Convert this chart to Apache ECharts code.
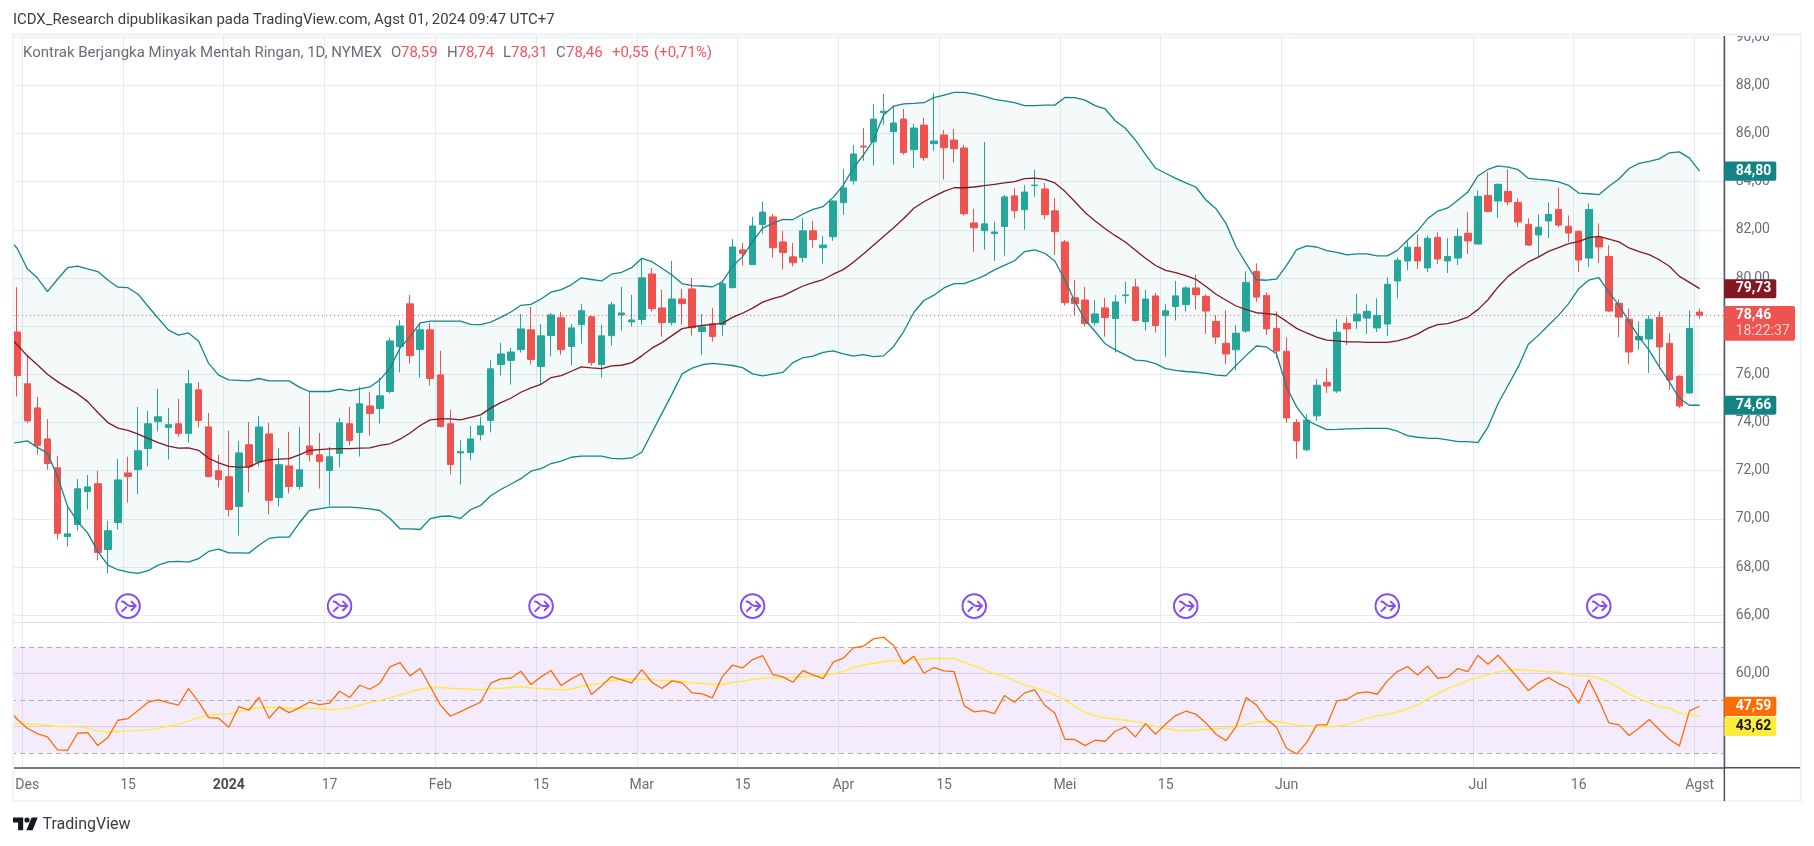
<!DOCTYPE html>
<html><head><meta charset="utf-8">
<style>html,body{margin:0;padding:0;background:#fff}#c{width:1814px;height:846px}</style>
<script src="https://cdn.jsdelivr.net/npm/echarts@6/dist/echarts.min.js"></script>
</head><body><div id="c"></div>
<script>
const monthDays = [
 ['2023-11',[29,30]],
 ['2023-12',[1,4,5,6,7,8,11,12,13,14,15,18,19,20,21,22,26,27,28,29]],
 ['2024-01',[2,3,4,5,8,9,10,11,12,16,17,18,19,22,23,24,25,26,29,30,31]],
 ['2024-02',[1,2,5,6,7,8,9,12,13,14,15,16,20,21,22,23,26,27,28,29]],
 ['2024-03',[1,4,5,6,7,8,11,12,13,14,15,18,19,20,21,22,25,26,27,28]],
 ['2024-04',[1,2,3,4,5,8,9,10,11,12,15,16,17,18,19,22,23,24,25,26,29,30]],
 ['2024-05',[1,2,3,6,7,8,9,10,13,14,15,16,17,20,21,22,23,24,28,29,30,31]],
 ['2024-06',[3,4,5,6,7,10,11,12,13,14,17,18,20,21,24,25,26,27,28]],
 ['2024-07',[1,2,3,5,8,9,10,11,12,15,16,17,18,19,22,23,24,25,26,29,30,31]],
 ['2024-08',[1,2,5]]
];
const categories = monthDays.flatMap(([m,ds]) => ds.map(d => m+'-'+String(d).padStart(2,'0')));
const tickDates = ['2023-12-01','2023-12-15','2024-01-02','2024-01-17','2024-02-01','2024-02-15','2024-03-01','2024-03-15','2024-04-01','2024-04-15','2024-05-01','2024-05-15','2024-06-03','2024-07-01','2024-07-16','2024-08-01'];
const tickLabels = ['Des','15','2024','17','Feb','15','Mar','15','Apr','15','Mei','15','Jun','Jul','16','Agst'];
const priceTicks = [66,68,70,72,74,76,78,80,82,84,86,88,90];
const rsiTicks = [40,60];
const rsiLevels = [30,50,70];
const markerDates = ['2023-12-15','2024-01-18','2024-02-15','2024-03-18','2024-04-18','2024-05-17','2024-06-17','2024-07-18'];
const markerLevel = 66.38;
const lastPrice = 78.46;

// [open, close, low, high]; the first day sits off the left edge of the pane
const candles = [
['-','-','-','-'],
[77.76,75.95,75.08,79.62],[75.61,74.07,73.98,76.81],[74.61,73.05,72.67,75.07],[73.32,72.30,72.04,74.14],[72.12,69.40,69.15,72.62],
[69.27,69.38,68.86,70.48],[69.77,71.25,69.52,71.65],[71.14,71.33,70.39,71.82],[71.46,68.61,68.28,72.00],[68.73,69.51,67.74,69.92],
[69.85,71.62,69.56,72.50],[71.91,71.76,70.68,72.58],[72.05,72.83,71.02,74.65],[72.92,73.95,72.18,74.49],[74.04,74.24,73.63,75.40],
[73.80,73.91,72.47,74.61],[73.95,73.55,73.42,74.98],[73.55,75.61,73.17,76.19],[75.36,74.09,73.80,75.69],[73.82,71.76,71.73,74.40],
[72.00,71.64,71.31,72.66],[71.75,70.39,70.10,73.66],[70.52,72.74,69.31,73.24],[73.08,72.18,71.10,74.03],[72.37,73.82,72.18,74.28],
[73.53,70.77,70.19,73.99],[70.89,72.25,70.52,72.95],[72.20,71.35,71.06,73.62],[71.35,72.04,71.22,73.82],[73.03,72.67,72.38,75.28],
[72.66,72.38,71.26,73.57],[72.01,72.58,70.56,72.99],[72.72,73.99,72.14,74.20],[73.95,73.26,73.05,74.65],[73.59,74.78,72.59,75.48],
[74.69,74.38,73.46,75.28],[74.58,75.11,73.96,75.86],[75.29,77.39,75.21,77.52],[77.16,78.01,76.08,78.26],[78.93,76.78,76.45,79.30],
[77.03,77.85,75.87,78.12],[77.85,75.83,75.54,78.14],[75.98,73.84,73.80,76.98],[73.95,72.26,71.85,74.53],[72.74,72.79,71.43,73.28],
[72.76,73.32,72.43,73.86],[73.50,73.86,73.26,74.24],[74.09,76.23,73.59,76.60],[76.41,76.85,75.95,77.31],[76.58,76.93,75.58,77.10],
[77.03,77.89,76.91,78.51],[77.85,76.62,76.41,78.80],[76.33,77.60,75.57,78.10],[77.61,78.47,76.74,78.55],[78.35,77.03,76.82,78.59],
[77.16,77.93,76.37,78.10],[78.07,78.64,77.28,78.93],[78.39,76.49,76.37,78.43],[76.41,77.60,75.87,78.06],[77.61,78.89,77.20,79.01],
[78.47,78.55,77.82,79.63],[78.18,78.26,77.99,79.30],[78.28,80.01,78.07,80.84],[80.17,78.73,78.61,80.42],[78.76,78.15,77.57,79.51],
[78.15,79.13,78.03,80.71],[79.13,78.94,78.06,79.55],[79.55,77.94,77.61,80.01],[77.78,77.97,76.82,78.51],[78.10,77.57,77.36,78.76],
[78.07,79.76,77.61,79.92],[79.60,81.29,79.58,81.62],[81.17,81.02,80.52,81.46],[80.56,82.16,80.56,82.54],[82.22,82.74,81.85,83.16],
[82.54,81.26,80.85,82.66],[81.50,81.06,80.35,81.96],[80.88,80.64,80.48,81.46],[80.85,81.96,80.64,82.50],[81.96,81.60,81.26,82.37],
[81.26,81.37,80.60,81.75],[81.72,83.20,81.55,83.23],[83.13,83.74,82.63,84.53],[84.04,85.15,83.88,85.52],[85.48,85.44,84.87,86.23],
[85.66,86.60,84.67,87.23],[86.87,86.93,86.37,87.64],[86.08,86.44,84.71,87.14],[86.60,85.21,85.12,87.02],[85.33,86.23,84.58,86.40],
[86.35,85.00,84.87,86.64],[85.58,85.69,85.29,87.68],[85.94,85.41,84.09,86.15],[85.73,85.37,84.79,86.19],[85.40,82.67,82.59,85.52],
[82.29,82.09,81.10,82.87],[81.97,82.25,81.18,85.65],[81.85,81.91,80.72,82.33],[82.14,83.37,80.93,83.45],[83.41,82.80,82.47,83.74],
[82.84,83.57,82.01,83.86],[83.84,83.86,83.38,84.49],[83.70,82.63,82.43,83.95],[82.79,81.93,80.97,83.32],[81.50,78.98,78.86,81.58],
[79.18,78.94,78.44,79.92],[79.09,78.11,77.99,79.63],[78.15,78.51,78.03,79.09],[78.76,78.36,77.57,79.18],[78.32,79.01,76.91,79.30],
[79.27,79.30,78.94,79.84],[79.63,78.24,78.19,79.96],[78.19,79.13,77.82,79.51],[79.26,78.03,77.74,79.38],[78.44,78.64,76.74,78.93],
[78.82,79.26,78.24,79.88],[78.90,79.59,78.61,79.67],[79.59,79.31,78.69,80.13],[79.24,78.63,77.68,79.33],[78.20,77.55,77.26,78.45],
[77.29,76.85,76.43,78.66],[77.02,77.71,76.17,78.04],[77.80,79.82,77.72,80.28],[80.28,79.21,79.01,80.61],[79.28,77.89,77.64,79.41],
[77.91,76.97,76.68,78.62],[76.96,74.19,73.99,77.54],[74.01,73.24,72.49,74.14],[72.87,74.10,72.82,74.35],[74.28,75.55,74.07,75.80],
[75.67,75.52,75.23,76.25],[75.31,77.75,75.23,78.29],[78.12,77.89,77.22,78.37],[78.22,78.50,77.89,79.33],[78.34,78.62,77.68,78.91],
[77.93,78.45,77.76,79.16],[78.09,79.74,77.60,80.03],[79.88,80.74,79.17,80.86],[80.71,81.28,80.32,81.52],[81.28,80.71,80.38,81.81],
[80.42,81.65,80.25,81.77],[81.69,80.79,80.58,81.90],[80.71,80.90,80.21,81.65],[80.83,81.73,80.54,82.06],[81.86,81.54,81.00,82.73],
[81.41,83.39,81.41,83.64],[83.43,82.77,82.74,84.39],[83.20,83.89,82.49,83.93],[83.60,83.16,83.03,84.51],[83.14,82.33,82.12,83.31],
[82.23,81.37,81.33,82.48],[81.79,82.11,80.87,82.64],[82.37,82.64,81.66,83.14],[82.85,82.20,82.12,83.76],[82.15,81.87,81.50,82.60],
[81.94,80.75,80.25,81.97],[80.83,82.85,80.46,83.10],[81.69,81.29,80.63,82.27],[80.90,78.63,78.59,81.36],[78.95,78.38,77.55,79.12],
[78.29,76.93,76.43,78.74],[77.43,77.58,77.02,78.20],[77.47,78.29,76.06,78.45],[78.37,77.14,76.23,78.62],[77.29,75.77,75.36,77.71],
[75.92,74.69,74.61,75.96],[75.23,77.91,75.19,78.66],[78.59,78.46,78.31,78.74]
];
const bbUpper = [81.66,
81.24,80.39,80.01,79.44,79.95,80.43,80.50,80.38,80.27,79.92,79.62,79.60,79.33,78.82,78.33,77.85,77.63,77.72,77.39,76.46,
75.97,75.77,75.75,75.73,75.83,75.73,75.73,75.73,75.47,75.29,75.29,75.29,75.39,75.32,75.40,75.48,75.77,76.26,77.09,77.57,
78.14,78.21,78.21,78.21,78.21,78.08,78.07,78.17,78.37,78.59,78.87,78.91,79.13,79.42,79.52,79.72,80.01,79.94,79.88,80.16,
80.24,80.43,80.82,80.68,80.41,80.13,79.77,79.69,79.67,79.63,79.85,80.48,80.89,81.51,82.07,82.27,82.44,82.43,82.66,82.85,
82.97,83.35,83.86,84.56,85.11,85.73,86.77,87.14,87.23,87.25,87.28,87.49,87.60,87.71,87.71,87.64,87.54,87.42,87.36,87.28,
87.16,87.16,87.18,87.18,87.50,87.49,87.39,87.16,87.02,86.53,86.22,85.73,85.14,84.56,84.35,84.14,83.95,83.78,83.24,82.88,
82.26,81.29,80.60,79.93,79.91,79.96,80.53,81.18,81.34,81.29,81.14,81.07,80.96,81.00,81.00,80.92,80.92,81.15,81.57,81.95,
82.46,82.78,82.91,83.23,83.57,84.24,84.51,84.66,84.61,84.50,84.14,84.10,84.07,83.99,83.85,83.53,83.50,83.46,83.81,84.11,
84.55,84.76,84.84,84.95,85.20,85.24,84.98,84.44];
const bbMiddle = [77.62,
77.23,76.77,76.40,76.01,75.70,75.44,75.19,74.87,74.42,74.00,73.77,73.68,73.52,73.34,73.17,73.02,72.94,72.95,72.85,72.52,
72.33,72.18,72.15,72.15,72.36,72.45,72.48,72.50,72.66,72.84,72.88,72.91,72.92,72.92,72.94,72.95,73.05,73.12,73.31,73.57,
73.88,74.11,74.15,74.15,74.11,74.22,74.32,74.60,74.83,75.01,75.26,75.44,75.59,75.87,75.95,76.13,76.31,76.27,76.24,76.35,
76.38,76.49,76.77,77.09,77.32,77.61,77.90,77.97,78.03,78.08,78.12,78.37,78.54,78.75,79.00,79.15,79.26,79.47,79.67,79.81,
79.94,80.16,80.35,80.66,81.00,81.36,81.73,82.09,82.47,82.90,83.17,83.39,83.60,83.75,83.75,83.78,83.84,83.89,83.95,84.00,
84.13,84.15,84.10,83.95,83.60,83.17,82.72,82.37,82.05,81.76,81.50,81.15,80.82,80.52,80.32,80.23,80.10,79.95,79.65,79.33,
79.08,78.84,78.69,78.56,78.52,78.48,78.20,77.91,77.72,77.55,77.42,77.39,77.35,77.35,77.33,77.33,77.33,77.39,77.51,77.67,
77.91,78.07,78.11,78.23,78.38,78.69,79.10,79.63,80.07,80.39,80.67,80.87,81.11,81.26,81.43,81.51,81.68,81.73,81.62,81.50,
81.25,81.10,80.97,80.76,80.49,80.07,79.82,79.56];
const bbLower = [73.15,
73.17,73.24,72.97,72.73,71.76,70.52,69.89,69.41,68.65,68.08,67.89,67.79,67.74,67.85,68.08,68.22,68.24,68.21,68.35,68.65,
68.75,68.59,68.59,68.58,68.91,69.19,69.24,69.24,69.83,70.35,70.42,70.49,70.49,70.49,70.46,70.42,70.35,70.02,69.59,69.59,
69.56,70.01,70.10,70.12,70.02,70.38,70.56,70.96,71.22,71.44,71.67,71.98,72.09,72.30,72.40,72.56,72.61,72.61,72.61,72.51,
72.49,72.53,72.77,73.58,74.38,75.18,76.02,76.26,76.40,76.46,76.42,76.37,76.28,76.02,75.94,76.01,76.08,76.49,76.69,76.76,
76.91,76.98,76.85,76.76,76.82,76.74,76.77,77.16,77.78,78.57,79.07,79.29,79.59,79.77,79.77,79.92,80.10,80.34,80.53,80.72,
81.10,81.17,81.03,80.71,79.92,79.02,78.26,77.78,77.27,77.02,76.81,76.59,76.56,76.45,76.24,76.17,76.12,76.09,76.04,75.97,
75.94,76.38,76.79,77.18,77.14,76.86,75.48,74.65,74.10,73.89,73.71,73.72,73.74,73.75,73.76,73.76,73.76,73.64,73.46,73.39,
73.35,73.34,73.28,73.21,73.21,73.17,73.82,74.79,75.55,76.31,77.25,77.62,78.04,78.45,78.94,79.56,79.91,80.02,79.42,78.87,
78.18,77.55,77.00,76.31,75.69,75.00,74.72,74.72];
const rsi = [47.2,
42.83,39.43,37.42,36.16,31.26,31.13,37.55,37.80,32.89,35.91,42.45,43.08,46.10,49.25,50.13,49.12,48.11,54.40,49.50,43.46,
43.21,39.81,47.61,46.23,51.13,43.21,47.48,45.35,47.11,49.25,48.36,48.87,53.40,51.01,55.66,54.15,56.42,62.58,64.21,59.18,
61.95,55.16,48.24,43.96,45.72,47.48,49.25,56.42,58.05,58.30,60.94,55.91,58.81,61.19,55.53,58.05,60.06,52.14,55.41,58.93,
57.67,56.54,61.57,56.79,54.40,57.30,56.54,52.77,52.39,50.88,58.93,63.21,62.20,65.35,66.86,59.69,58.81,56.79,61.19,59.56,
58.18,64.34,65.85,69.75,70.38,73.14,73.77,70.63,63.71,66.60,60.19,62.33,61.07,60.82,47.86,45.60,46.10,44.97,51.76,49.25,
52.77,53.90,48.11,45.22,35.28,35.16,32.89,34.91,34.53,38.30,39.94,36.16,41.19,37.17,41.07,44.21,45.85,44.72,41.45,37.17,
34.78,40.06,51.01,48.24,42.96,39.81,31.89,29.75,34.03,40.69,40.69,49.75,50.38,52.64,53.14,52.26,57.30,60.82,62.70,59.56,
62.83,58.30,58.68,61.95,60.82,66.98,63.58,66.98,62.70,58.30,53.65,56.54,58.55,56.29,54.53,48.87,57.67,50.13,41.45,40.69,
36.67,39.56,42.70,38.93,35.28,32.77,45.97,47.74];
const rsiMA = [41.07,
41.07,41.07,40.82,40.57,40.06,40.06,39.94,39.43,38.43,37.92,38.18,38.43,38.55,38.81,39.43,40.19,40.82,42.20,43.46,44.34,
44.72,44.84,45.60,46.60,47.23,47.36,47.23,46.98,46.98,46.86,46.86,46.48,46.73,47.11,48.11,49.12,49.87,51.01,52.01,53.14,
54.15,54.78,54.91,54.53,54.40,54.15,53.90,54.40,54.53,54.78,55.16,54.65,54.40,54.28,53.90,54.15,55.28,55.91,56.54,57.42,
57.92,57.92,57.92,57.67,57.42,57.42,57.17,56.54,56.29,55.91,55.91,56.67,57.17,57.80,58.30,58.43,58.43,58.55,58.93,59.06,
59.31,59.94,60.82,62.45,63.21,63.84,64.59,64.84,64.84,65.22,65.47,65.72,65.72,65.72,64.34,62.96,61.45,60.06,59.06,57.30,
55.79,54.78,53.65,52.01,50.13,47.61,45.47,44.21,43.33,42.83,42.45,41.95,41.19,40.06,39.43,38.68,38.55,38.68,39.06,39.31,
39.43,39.94,40.94,41.70,41.95,42.08,41.32,40.69,40.31,40.06,39.94,40.19,40.82,41.95,43.33,44.21,44.59,45.47,46.86,48.24,
50.38,52.52,54.40,55.91,57.42,58.55,59.56,60.69,61.32,61.57,61.32,61.07,60.69,60.57,59.94,59.18,59.18,58.30,56.92,54.65,
52.39,50.50,49.12,47.61,46.98,45.22,44.47,43.84];

const FONT = 'Roboto, "Liberation Sans", sans-serif';
const GRID = '#e4ecf2', TXT = '#6a6d78', UP = '#26a69a', DOWN = '#ef5350', BB = '#13868a', FRAME='#f0f3fa', AXIS='#50535e';
const tickIdx = tickDates.map(d => categories.indexOf(d));
const isTick = i => tickIdx.includes(i);
const fmt = v => v.toFixed(2).replace('.', ',');
const markers = markerDates.map(d => [d, markerLevel]);
const markerSvg = encodeURIComponent('<svg xmlns="http://www.w3.org/2000/svg" width="26" height="26" viewBox="0 0 26 26"><circle cx="13" cy="13" r="11.8" fill="#fff" stroke="#651fff" stroke-width="2"/><path d="M7 8.5C10.5 8.5 11.5 12.8 15 12.8H20.5M16.5 8.5L20.8 12.8L16.5 17.1M7.2 18L11.2 14.2" fill="none" stroke="#651fff" stroke-width="2" stroke-linecap="round" stroke-linejoin="round"/></svg>');

const chart = echarts.init(document.getElementById('c'), null, {renderer:'canvas', width:1814, height:846});
const lineBase = {type:'line', symbol:'none', showSymbol:false, smooth:false, animation:false, silent:true};
const GL = 2.086, GW = 1722.67;
chart.setOption({
  animation:false, backgroundColor:'#fff',
  grid:[
    {left:GL, width:GW, top:36, height:586, show:false},
    {left:GL, width:GW, top:622.3, height:145, show:false}
  ],
  xAxis:[
    {type:'category', gridIndex:0, data:categories, boundaryGap:true,
     axisLine:{show:true,lineStyle:{color:'#e0e3eb',width:1}}, axisTick:{show:false}, axisLabel:{show:false},
     splitLine:{show:true, interval:i=>isTick(i), lineStyle:{color:GRID,width:1}}},
    {type:'category', gridIndex:1, data:categories, boundaryGap:true,
     axisLine:{show:true,lineStyle:{color:AXIS,width:1.5}}, axisTick:{show:false},
     axisLabel:{show:true, interval:i=>isTick(i), hideOverlap:false,
       margin:11.5, color:TXT, fontFamily:FONT, fontSize:14,
       formatter:(v)=>{const k=tickDates.indexOf(v); const t=k<0?'':tickLabels[k]; return t==='2024'?'{b|2024}':t;},
       rich:{b:{fontWeight:'bold',color:'#4a4c55',fontFamily:FONT,fontSize:14}}},
     splitLine:{show:true, interval:i=>isTick(i), lineStyle:{color:GRID,width:1}}}
  ],
  yAxis:[
    {type:'value', gridIndex:0, position:'right', min:65.72, max:90.05, scale:true,
     axisLine:{show:false}, axisTick:{show:false, customValues:priceTicks},
     axisLabel:{show:true, customValues:priceTicks, margin:11, color:TXT, fontFamily:FONT, fontSize:14, formatter:fmt},
     splitLine:{show:true,lineStyle:{color:GRID,width:1}}},
    {type:'value', gridIndex:1, position:'right', min:24.7, max:79.4, scale:true,
     axisLine:{show:false}, axisTick:{show:false, customValues:rsiTicks},
     axisLabel:{show:true, customValues:rsiTicks, margin:11, color:TXT, fontFamily:FONT, fontSize:14, formatter:fmt},
     splitLine:{show:true,lineStyle:{color:'#e0d8f2',width:1}}}
  ],
  series:[
    {...lineBase, name:'BB base', data:bbLower, stack:'bb', lineStyle:{width:0,opacity:0}, z:1},
    {...lineBase, name:'BB fill', data:bbUpper.map((u,i)=>+(u-bbLower[i]).toFixed(2)), stack:'bb', lineStyle:{width:0,opacity:0},
      areaStyle:{color:'rgba(33,140,140,0.05)',opacity:1}, z:1},
    {type:'candlestick', name:'CL1!', data:candles, barWidth:7, animation:false, silent:true, z:3,
      itemStyle:{color:UP,color0:DOWN,borderColor:UP,borderColor0:DOWN,borderWidth:1},
      markLine:{silent:true,symbol:'none',animation:false,z:2,label:{show:false},
        lineStyle:{color:DOWN,type:[1,3],width:1},data:[{yAxis:lastPrice}]}},
    {...lineBase, name:'BB upper', data:bbUpper, lineStyle:{color:BB,width:1.3}, z:4},
    {...lineBase, name:'BB basis', data:bbMiddle, lineStyle:{color:'#801922',width:1.3}, z:4},
    {...lineBase, name:'BB lower', data:bbLower, lineStyle:{color:BB,width:1.3}, z:4},
    {type:'scatter', name:'markers', data:markers, symbol:'image://data:image/svg+xml,'+markerSvg, symbolSize:26, animation:false, silent:true, z:5, clip:false},
    {...lineBase, name:'RSI MA', xAxisIndex:1, yAxisIndex:1, data:rsiMA, lineStyle:{color:'#ffeb3b',width:1.4}, z:3},
    {...lineBase, name:'RSI', xAxisIndex:1, yAxisIndex:1, data:rsi, lineStyle:{color:'#ff6d00',width:1.3}, z:4,
      markArea:{silent:true,animation:false,z:0,itemStyle:{color:'rgba(150,70,240,0.1)'},data:[[{yAxis:rsiLevels[0]},{yAxis:rsiLevels[2]}]]},
      markLine:{silent:true,symbol:'none',animation:false,z:1,label:{show:false},
        lineStyle:{color:'#b3adb8',type:[5,4],width:1},data:rsiLevels.map(v=>({yAxis:v}))}}
  ]
});

const last = a => a[a.length-1];
const py = v => chart.convertToPixel({yAxisIndex:0},v);
const ry = v => chart.convertToPixel({yAxisIndex:1},v);
const tags = [
  {t:'84,80',y:py(last(bbUpper))-9.7,h:19.3,w:52,bg:'#138484',fg:'#fff'},
  {t:'79,73',y:py(last(bbMiddle))-9.5,h:19,w:52,bg:'#801922',fg:'#fff'},
  {t:'74,66',y:py(last(bbLower))-9.5,h:19,w:52,bg:'#138484',fg:'#fff'},
  {t:'47,59',y:ry(last(rsi))-9.6,h:19.3,w:52,bg:'#ff6d00',fg:'#fff'},
  {t:'43,62',y:ry(last(rsiMA))+0.4,h:19,w:52,bg:'#ffeb3b',fg:'#131722'}
];
const legend = [
  {t:'Kontrak Berjangka Minyak Mentah Ringan, 1D, NYMEX',x:23,c:TXT},
  {t:'O',x:391,c:TXT},{t:'78,59',x:401,c:'#f7525f'},
  {t:'H',x:447,c:TXT},{t:'78,74',x:457.5,c:'#f7525f'},
  {t:'L',x:503,c:TXT},{t:'78,31',x:511,c:'#f7525f'},
  {t:'C',x:556,c:TXT},{t:'78,46',x:566,c:'#f7525f'},
  {t:'+0,55',x:612,c:'#f7525f'},{t:'(+0,71%)',x:654,c:'#f7525f'}
];
const rect=(x,y,w,h,fill,z=20,r)=>({type:'rect',silent:true,z,shape:{x,y,width:w,height:h,r:r||0},style:{fill}});
const text=(t,x,y,font,fill,z=30,extra={})=>({type:'text',silent:true,z,x,y,style:{text:t,font,fill,textVerticalAlign:'middle',...extra}});
const poly=(points,fill)=>({type:'polygon',silent:true,z:30,shape:{points},style:{fill}});
const g=[
  rect(0,36,12,733,'#fff',18),
  rect(1726,20,74,13,'#fff',18),
  rect(12,33,1789.5,3,FRAME),rect(12,33,2,768,FRAME),rect(1800,33,2,769,FRAME),rect(12,800,1790,2,FRAME),
  rect(1724,767,76,1.5,AXIS),rect(1723.6,36,1.5,765,AXIS),
  text('ICDX_Research dipublikasikan pada TradingView.com, Agst 01, 2024 09:47 UTC+7',13,20,'14.9px '+FONT,'#3a3d46'),
  ...legend.map(l=>text(l.t,l.x,53.5,'15px '+FONT,l.c)),
  text('TradingView',42.5,825,'16px '+FONT,'#3a3d46'),
  poly([[13,817.4],[23.2,817.4],[23.2,830.2],[18.1,830.2],[18.1,822.4],[13,822.4]],'#131722'),
  poly([[37.7,817.4],[32.6,830.2],[26.4,830.2],[31.6,817.4]],'#131722'),
  {type:'circle',silent:true,z:30,shape:{cx:27,cy:820,r:2.6},style:{fill:'#131722'}},
  ...tags.flatMap(k=>[rect(1724.3,k.y,k.w,k.h,k.bg,22,[0,2,2,0]),text(k.t,1735.7,k.y+k.h/2,'bold 14px '+FONT,k.fg,32)]),
  rect(1724.3,306,70.7,34.7,DOWN,22,[0,2,2,0]),
  text('78,46',1735.7,315.5,'bold 14px '+FONT,'#fff',32),
  text('18:22:37',1735.7,331,'14px '+FONT,'#fcd4d2',32)
];
chart.setOption({graphic:g});
</script></body></html>
